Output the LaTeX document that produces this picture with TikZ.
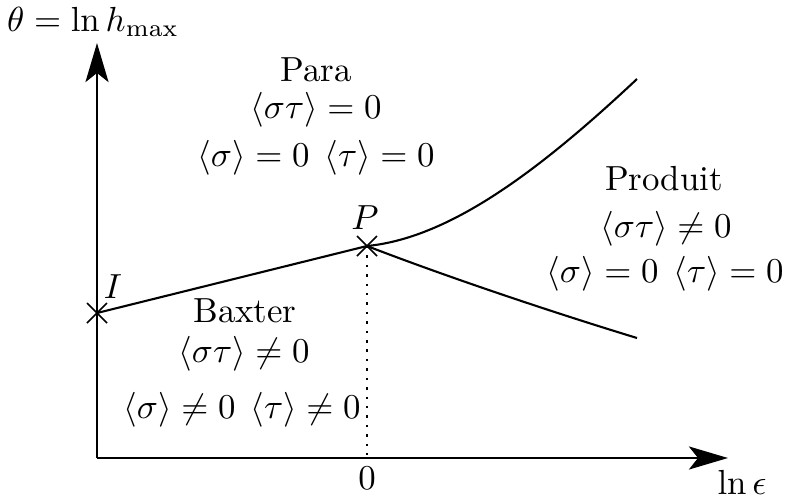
\documentclass[tikz,border=0pt]{standalone}
\usetikzlibrary{arrows.meta,calc}
\begin{document}
\begin{tikzpicture}[x=0.287pt,y=-0.287pt,
  axis/.style={line width=0.78pt,-{Stealth[length=11.2pt,width=6.6pt,inset=2.6pt]}},
  curve/.style={line width=0.6pt},
  crossmark/.style={line width=0.5pt},
  lab/.style={anchor=base,inner sep=0pt}]
\useasboundingbox (0,0) rectangle (785,497);
% key points
\coordinate (O) at (97,458);
\coordinate (Xend) at (728,458);
\coordinate (Yend) at (97,43);
\coordinate (I) at (97,313);
\coordinate (P) at (367,246);
\coordinate (U) at (637,79);
\coordinate (L) at (637,338);
\coordinate (D) at (367,458);
% axes
\draw[axis] (O) -- (Xend);
\draw[axis] (O) -- (Yend);
% dotted line
\draw[dotted,line width=0.7pt] (P) -- (D);
% curves
\draw[curve] (I) -- (P);
\draw[curve] (P) .. controls (450,238) and (540,170) .. (U);
\draw[curve] (P) .. controls (450,278) and (555,313) .. (L);
% crosses
\foreach \c in {I,P}{
  \draw[crossmark] ($(\c)+(-10,-10)$) -- ($(\c)+(10,10)$);
  \draw[crossmark] ($(\c)+(-10,10)$) -- ($(\c)+(10,-10)$);
}
% labels
\node (ylab) at (93,22) {$\theta=\ln h_{\max}$};
\node (xlab) at (742,482) {$\ln\epsilon$};
\node (zero) at (367,478) {$0$};
\node (Plab) at (365,218) {$P$};
\node (Ilab) at (113,287) {$I$};
% Para
\node[lab] (para1) at (316,81) {Para};
\node[lab] (para2) at (316,118) {$\langle\sigma\tau\rangle=0$};
\node[lab] (para3) at (316,166) {$\langle\sigma\rangle=0\hspace{4.3pt}\langle\tau\rangle=0$};
% Baxter
\node[lab] (bax1) at (245,322) {Baxter};
\node[lab] (bax2) at (244,362) {$\langle\sigma\tau\rangle\neq0$};
\node[lab] (bax3) at (242,418) {$\langle\sigma\rangle\neq0\hspace{4.3pt}\langle\tau\rangle\neq0$};
% Produit
\node[lab] (prod1) at (664,190) {Produit};
\node[lab] (prod2) at (666,237) {$\langle\sigma\tau\rangle\neq0$};
\node[lab] (prod3) at (665,282) {$\langle\sigma\rangle=0\hspace{4.3pt}\langle\tau\rangle=0$};
\end{tikzpicture}
\end{document}
